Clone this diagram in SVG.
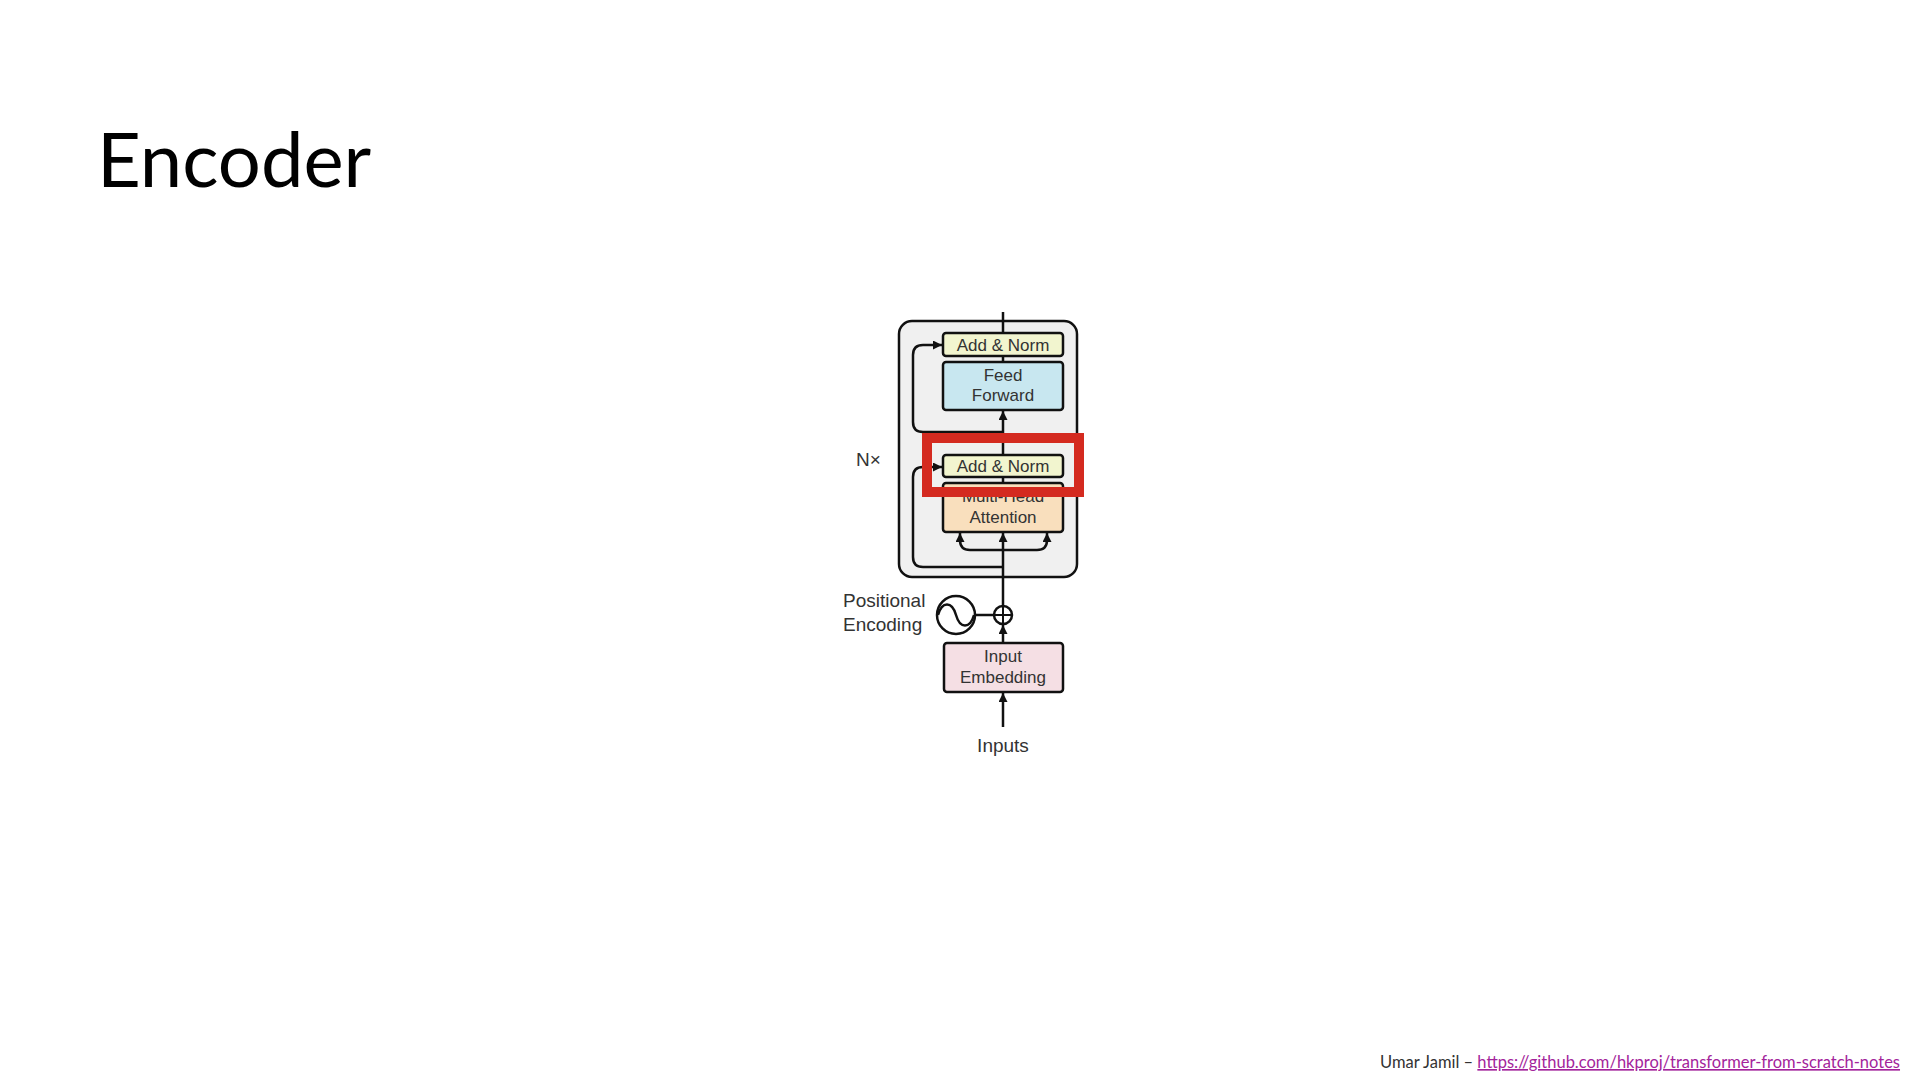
<svg xmlns="http://www.w3.org/2000/svg" width="1920" height="1080" viewBox="0 0 1920 1080">
  <defs>
    <marker id="arr" markerUnits="userSpaceOnUse" markerWidth="9" markerHeight="9" refX="9" refY="4.5" orient="auto">
      <path d="M0,0 L9,4.5 L0,9 z" fill="#111"/>
    </marker>
    <style>
      .box { stroke: #111; stroke-width: 2.5; }
      .lbl { font-family: "Liberation Sans", Arial, sans-serif; font-size: 17px; fill: #333; text-anchor: middle; }
      .side { font-family: "Liberation Sans", Arial, sans-serif; font-size: 19px; fill: #333; }
      .wire { fill: none; stroke: #111; stroke-width: 2.5; }
    </style>
  </defs>
  <rect width="1920" height="1080" fill="#ffffff"/>

  <g id="title">
    <text x="97" y="187" font-family="Lato, 'Noto Sans', sans-serif" font-size="76" fill="#000">Encoder</text>
  </g>

  <g id="encoder-block">
    <rect x="899" y="321" width="178" height="256" rx="13" fill="#f0f0f0" class="box"/>
  </g>

  <g id="connectors">
    <line x1="1003" y1="727" x2="1003" y2="693" class="wire" marker-end="url(#arr)"/>
    <line x1="1003" y1="643" x2="1003" y2="625" class="wire" marker-end="url(#arr)"/>
    <line x1="1003" y1="606" x2="1003" y2="533" class="wire" marker-end="url(#arr)"/>
    <line x1="1003" y1="483" x2="1003" y2="477" class="wire"/>
    <line x1="1003" y1="455" x2="1003" y2="411" class="wire" marker-end="url(#arr)"/>
    <line x1="1003" y1="362" x2="1003" y2="356" class="wire"/>
    <line x1="1003" y1="333" x2="1003" y2="312" class="wire"/>
    <line x1="975" y1="615" x2="994" y2="615" class="wire"/>
    <path d="M1003,567 H923 Q913,567 913,557 V477 Q913,467 923,467 H942" class="wire" marker-end="url(#arr)"/>
    <path d="M1003,432 H923 Q913,432 913,422 V355 Q913,345 923,345 H942" class="wire" marker-end="url(#arr)"/>
    <path d="M1003,550 H970 Q960,550 960,540 V533" class="wire" marker-end="url(#arr)"/>
    <path d="M1003,550 H1037 Q1047,550 1047,540 V533" class="wire" marker-end="url(#arr)"/>
  </g>

  <g id="add-norm-top">
    <rect x="943" y="333" width="120" height="23" rx="3" fill="#f2f5cf" class="box"/>
    <text x="1003" y="351" class="lbl">Add &amp; Norm</text>
  </g>

  <g id="feed-forward">
    <rect x="943" y="362" width="120" height="48" rx="3" fill="#c8e7f0" class="box"/>
    <text x="1003" y="381" class="lbl">Feed</text>
    <text x="1003" y="401" class="lbl">Forward</text>
  </g>

  <g id="add-norm-bottom">
    <rect x="943" y="455" width="120" height="22" rx="3" fill="#f2f5cf" class="box"/>
    <text x="1003" y="472" class="lbl">Add &amp; Norm</text>
  </g>

  <g id="multi-head-attention">
    <rect x="943" y="483" width="120" height="49" rx="3" fill="#f9dfbd" class="box"/>
    <text x="1003" y="502" class="lbl">Multi-Head</text>
    <text x="1003" y="523" class="lbl">Attention</text>
  </g>

  <g id="nx-label">
    <text x="856" y="466" class="side" font-size="18">N×</text>
  </g>

  <g id="positional-encoding">
    <circle cx="956" cy="615" r="19" fill="#fff" class="box"/>
    <path d="M938,615 C942,601 952,601 956,615 C960,629 970,629 974,615" class="wire"/>
    <text x="843" y="607" class="side">Positional</text>
    <text x="843" y="631" class="side">Encoding</text>
  </g>

  <g id="add-op">
    <circle cx="1003" cy="615" r="9" fill="#fff" class="box" stroke-width="2"/>
    <line x1="994" y1="615" x2="1012" y2="615" stroke="#111" stroke-width="2"/>
    <line x1="1003" y1="606" x2="1003" y2="624" stroke="#111" stroke-width="2"/>
  </g>

  <g id="input-embedding">
    <rect x="944" y="643" width="119" height="49" rx="3" fill="#f5dfe4" class="box"/>
    <text x="1003" y="662" class="lbl">Input</text>
    <text x="1003" y="683" class="lbl">Embedding</text>
  </g>

  <g id="inputs-label">
    <text x="1003" y="752" class="side" text-anchor="middle">Inputs</text>
  </g>

  <g id="highlight">
    <rect x="927" y="438" width="152" height="54" fill="none" stroke="#d42a20" stroke-width="10"/>
  </g>

  <g id="footer">
    <text x="1380" y="1068" font-family="Lato, 'Noto Sans', sans-serif" font-size="16.5" fill="#333">Umar Jamil – <tspan fill="#a3249b" text-decoration="underline">https://github.com/hkproj/transformer-from-scratch-notes</tspan></text>
  </g>
</svg>
